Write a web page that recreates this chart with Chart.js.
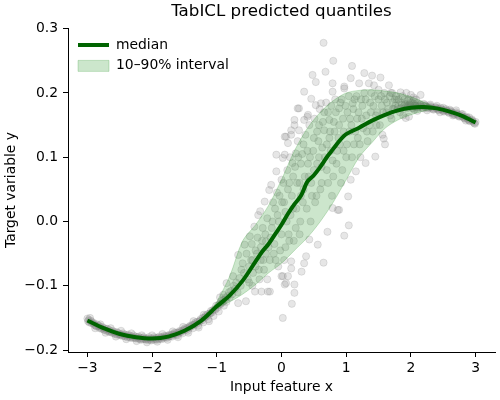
<!DOCTYPE html>
<html>
<head>
<meta charset="utf-8">
<script src="https://cdn.jsdelivr.net/npm/chart.js@4/dist/chart.umd.min.js"></script>
<style>
  html, body { margin: 0; padding: 0; background: #fff; }
  canvas { display: block; }
</style>
</head>
<body>
<canvas id="quantChart" width="500" height="400"></canvas>
<script>
// tick positions + labels
const xTicks = [-3, -2, -1, 0, 1, 2, 3];
const xTickLabels = ['\u22123', '\u22122', '\u22121', '0', '1', '2', '3'];
const yTicks = [-0.2, -0.1, 0.0, 0.1, 0.2, 0.3];
const yTickLabels = ['\u22120.2', '\u22120.1', '0.0', '0.1', '0.2', '0.3'];

// median prediction
const medianX = [-3, -2.75, -2.5, -2.25, -2, -1.75, -1.5, -1.25, -1, -0.8, -0.6, -0.4, -0.3, -0.2, -0.1, 0, 0.1, 0.2, 0.3, 0.4, 0.5, 0.6, 0.7, 0.8, 0.9, 1.0, 1.2, 1.4, 1.6, 1.8, 2.0, 2.2, 2.4, 2.6, 2.8, 3.0];
const medianY = [-0.154, -0.166, -0.175, -0.180, -0.182, -0.179, -0.170, -0.155, -0.132, -0.115, -0.092, -0.062, -0.047, -0.035, -0.020, -0.005, 0.012, 0.027, 0.040, 0.062, 0.072, 0.085, 0.100, 0.113, 0.126, 0.136, 0.146, 0.157, 0.166, 0.173, 0.177, 0.178, 0.176, 0.171, 0.164, 0.154];

// 10-90% interval
const bandX = [-1.1, -1.0, -0.8, -0.6, -0.4, -0.2, 0.0, 0.2, 0.4, 0.6, 0.8, 1.0, 1.2, 1.4, 1.6, 1.8, 2.0, 2.2, 2.4];
const bandHigh = [-0.143, -0.125, -0.085, -0.030, -0.005, 0.025, 0.065, 0.110, 0.145, 0.170, 0.188, 0.200, 0.204, 0.205, 0.203, 0.200, 0.194, 0.186, 0.176];
const bandLow = [-0.143, -0.135, -0.125, -0.113, -0.098, -0.080, -0.065, -0.045, -0.025, 0.000, 0.030, 0.065, 0.100, 0.123, 0.145, 0.158, 0.166, 0.172, 0.176];

// training samples (x, y) - tight part on the left
const samplesLeft = [
  [-3.00, -0.151], [-2.97, -0.157], [-2.93, -0.156], [-2.89, -0.161], [-2.85, -0.160], [-2.81, -0.166],
  [-2.77, -0.164], [-2.73, -0.169], [-2.69, -0.167], [-2.65, -0.172], [-2.61, -0.170], [-2.57, -0.175],
  [-2.53, -0.173], [-2.49, -0.177], [-2.45, -0.174], [-2.41, -0.179], [-2.37, -0.176], [-2.33, -0.181],
  [-2.29, -0.177], [-2.25, -0.182], [-2.21, -0.179], [-2.17, -0.184], [-2.13, -0.180], [-2.09, -0.184],
  [-2.05, -0.180], [-2.01, -0.185], [-1.97, -0.180], [-1.93, -0.184], [-1.89, -0.179], [-1.85, -0.183],
  [-1.81, -0.178], [-1.77, -0.181], [-1.73, -0.176], [-1.69, -0.179], [-1.65, -0.173], [-1.61, -0.177],
  [-1.57, -0.170], [-1.53, -0.174], [-1.49, -0.166], [-1.45, -0.170], [-1.41, -0.162], [-1.37, -0.166],
  [-1.33, -0.157], [-1.29, -0.162], [-1.25, -0.152], [-1.21, -0.157], [-1.17, -0.146], [-1.13, -0.152],
  [-1.09, -0.139], [-1.05, -0.147], [-1.01, -0.131], [-0.97, -0.140], [-0.93, -0.124], [-0.89, -0.131],
  [-2.99, -0.155], [-2.95, -0.154], [-2.91, -0.159], [-2.87, -0.162], [-2.83, -0.163], [-2.79, -0.165],
  [-2.75, -0.168], [-2.71, -0.167], [-2.67, -0.171], [-2.63, -0.171], [-2.59, -0.174], [-2.55, -0.172],
  [-2.51, -0.176], [-2.47, -0.176], [-2.43, -0.178], [-2.39, -0.177], [-2.35, -0.180], [-2.31, -0.179],
  [-2.27, -0.181], [-2.23, -0.180], [-2.19, -0.183], [-2.15, -0.181], [-2.11, -0.183], [-2.07, -0.182],
  [-2.03, -0.184], [-1.99, -0.182], [-1.95, -0.183], [-1.91, -0.181], [-1.87, -0.182], [-1.83, -0.180],
  [-1.79, -0.180], [-1.75, -0.178], [-1.71, -0.178], [-1.67, -0.175], [-1.63, -0.176], [-1.59, -0.172],
  [-1.55, -0.172], [-1.51, -0.168], [-1.47, -0.168], [-1.43, -0.164], [-1.39, -0.163], [-1.35, -0.160],
  [-1.31, -0.159], [-1.27, -0.155], [-1.23, -0.154], [-1.19, -0.149], [-1.15, -0.147], [-1.11, -0.143],
  [-1.07, -0.141], [-1.03, -0.136], [-0.99, -0.134], [-0.95, -0.129], [-0.91, -0.126], [-0.87, -0.121],
  [-0.85, -0.125], [-0.83, -0.116], [-0.81, -0.110], [-0.78, -0.108], [-0.76, -0.113], [-0.74, -0.100],
  [-0.70, -0.095], [-0.68, -0.110], [-0.65, -0.088], [-0.63, -0.100],
  [-2.98, -0.153], [-2.94, -0.158], [-2.90, -0.158], [-2.86, -0.163], [-2.82, -0.162], [-2.78, -0.167],
  [-2.74, -0.166], [-2.70, -0.170], [-2.66, -0.169], [-2.62, -0.173], [-2.58, -0.172], [-2.54, -0.176],
  [-2.50, -0.175], [-2.46, -0.178], [-2.42, -0.176], [-2.38, -0.180], [-2.34, -0.178], [-2.30, -0.181],
  [-2.26, -0.179], [-2.22, -0.182], [-2.18, -0.181], [-2.14, -0.183], [-2.10, -0.182], [-2.06, -0.184],
  [-2.02, -0.182], [-1.98, -0.184], [-1.94, -0.181], [-1.90, -0.183], [-1.86, -0.180], [-1.82, -0.181],
  [-1.78, -0.178], [-1.74, -0.179], [-1.70, -0.176], [-1.66, -0.176], [-1.62, -0.173], [-1.58, -0.173],
  [-1.54, -0.170], [-1.50, -0.169], [-1.46, -0.166], [-1.42, -0.165], [-1.38, -0.161], [-1.34, -0.160],
  [-1.30, -0.156], [-1.26, -0.155], [-1.22, -0.150], [-1.18, -0.149], [-1.14, -0.144], [-1.10, -0.143],
  [-1.06, -0.138], [-1.02, -0.137], [-0.98, -0.130], [-0.94, -0.128], [-0.90, -0.122], [-0.86, -0.118],
  [-2.96, -0.150], [-2.88, -0.166], [-2.80, -0.160], [-2.72, -0.173], [-2.64, -0.166], [-2.56, -0.179],
  [-2.48, -0.170], [-2.40, -0.183], [-2.32, -0.174], [-2.24, -0.186], [-2.16, -0.177], [-2.08, -0.188],
  [-2.00, -0.177], [-1.92, -0.187], [-1.84, -0.175], [-1.76, -0.184], [-1.68, -0.171], [-1.60, -0.180],
  [-1.52, -0.164], [-1.44, -0.173], [-1.36, -0.155], [-1.28, -0.165], [-1.20, -0.145], [-1.12, -0.155]
];
// spread part in the middle
const samplesMid = [
  [-0.95, -0.118], [-0.90, -0.114], [-0.85, -0.096], [-0.80, -0.118], [-0.75, -0.085], [-0.72, -0.105],
  [-0.67, -0.127], [-0.67, -0.052], [-0.62, -0.075], [-0.60, -0.065], [-0.57, -0.036], [-0.55, -0.124],
  [-0.52, -0.090], [-0.49, -0.023], [-0.47, -0.060], [-0.45, -0.100], [-0.42, -0.008], [-0.41, -0.109],
  [-0.40, -0.045], [-0.36, 0.010], [-0.35, -0.075], [-0.33, 0.016], [-0.31, -0.109], [-0.30, -0.030],
  [-0.28, -0.060], [-0.26, 0.031], [-0.24, -0.031], [-0.22, -0.090], [-0.21, -0.109], [-0.19, 0.049],
  [-0.18, -0.109], [-0.16, 0.057], [-0.15, -0.010], [-0.12, -0.050], [-0.10, 0.020], [-0.08, 0.078],
  [-0.08, 0.104], [-0.05, -0.070], [-0.03, 0.040], [0.00, 0.065], [0.00, -0.085], [0.02, -0.150],
  [0.02, 0.099], [0.02, -0.085], [0.05, 0.132], [0.05, 0.104], [0.05, -0.098], [0.07, -0.096],
  [0.07, 0.132], [0.08, 0.000], [0.10, 0.122], [0.10, -0.085], [0.10, 0.050], [0.12, -0.030],
  [0.15, 0.135], [0.15, 0.142], [0.15, -0.062], [0.15, -0.073], [0.16, -0.128], [0.17, 0.091],
  [0.18, 0.020], [0.20, 0.150], [0.20, 0.158], [0.20, -0.098], [0.20, -0.111], [0.22, 0.106],
  [0.24, 0.060], [0.25, 0.176], [0.27, 0.142], [0.27, 0.176], [0.28, -0.020], [0.30, 0.090],
  [0.31, -0.078], [0.33, 0.030], [0.35, 0.202], [0.35, 0.158], [0.35, -0.065], [0.38, -0.054],
  [0.40, 0.163], [0.40, 0.110], [0.41, 0.166], [0.42, 0.070], [0.43, -0.028], [0.45, 0.000],
  [0.46, 0.191], [0.48, 0.228], [0.50, 0.130], [0.52, 0.030], [0.53, 0.217], [0.53, 0.181],
  [0.55, 0.090], [0.56, -0.036], [0.58, 0.150], [0.60, 0.050], [0.61, 0.184], [0.63, 0.115],
  [0.65, 0.278], [0.65, -0.064], [0.66, 0.142], [0.68, 0.233], [0.70, 0.080], [0.71, -0.016],
  [0.72, 0.170], [0.74, 0.158], [0.76, 0.110], [0.78, 0.040], [0.79, 0.215], [0.79, 0.202],
  [0.79, 0.021], [0.80, 0.250], [0.82, 0.140], [0.85, 0.090], [0.87, 0.018], [0.89, 0.176],
  [0.89, 0.018], [0.90, 0.120], [0.92, 0.060], [0.95, 0.160], [0.97, 0.207], [0.97, 0.210],
  [0.97, -0.022], [1.00, 0.100], [1.03, 0.039], [1.04, -0.006], [1.05, 0.140], [1.07, 0.223],
  [1.07, 0.065], [1.09, 0.242], [1.10, 0.184], [1.12, 0.120], [1.15, 0.078], [1.17, 0.160],
  [1.20, 0.215], [1.22, 0.100], [1.25, 0.180], [1.28, 0.231], [1.30, 0.091], [1.32, 0.140],
  [1.35, 0.215], [1.38, 0.170], [1.40, 0.227], [1.43, 0.212], [1.45, 0.101], [1.47, 0.150],
  [1.50, 0.190], [1.53, 0.224], [1.56, 0.135], [1.58, 0.129], [1.60, 0.120], [1.62, 0.170],
  [1.66, 0.212], [1.69, 0.200], [1.70, 0.160], [1.75, 0.190], [1.80, 0.175], [1.84, 0.201],
  [1.88, 0.165], [1.92, 0.161], [1.97, 0.163], [2.00, 0.197], [2.05, 0.190], [2.15, 0.197],
  [2.10, 0.172],
  [-0.50, -0.070], [-0.45, -0.060], [-0.38, -0.050], [-0.32, -0.040], [-0.25, -0.020], [-0.20, -0.040],
  [-0.14, 0.000], [-0.06, 0.010], [0.00, -0.020], [0.04, 0.030], [0.06, -0.040], [0.12, 0.060],
  [0.14, 0.010], [0.18, 0.070], [0.22, -0.010], [0.26, 0.100], [0.30, 0.040], [0.34, 0.120],
  [0.36, 0.070], [0.44, 0.100], [0.47, 0.040], [0.50, 0.080], [0.55, 0.140], [0.58, 0.100],
  [0.62, 0.060], [0.66, 0.170], [0.70, 0.120], [0.75, 0.140], [0.80, 0.070], [0.84, 0.170],
  [0.88, 0.130], [0.93, 0.190], [0.96, 0.110], [1.02, 0.170], [1.08, 0.150], [1.13, 0.190],
  [1.18, 0.130], [1.24, 0.160], [1.30, 0.190], [1.36, 0.150], [1.42, 0.180], [1.48, 0.170],
  [1.55, 0.180], [1.60, 0.190], [1.65, 0.175], [1.72, 0.185], [1.78, 0.190], [1.85, 0.185],
  [1.95, 0.188], [2.02, 0.185],
  [-0.58, -0.080], [-0.54, -0.050], [-0.50, -0.095], [-0.46, -0.035], [-0.44, -0.080], [-0.40, -0.070],
  [-0.37, -0.025], [-0.34, -0.090], [-0.32, -0.060], [-0.29, -0.010], [-0.27, -0.075], [-0.24, -0.050],
  [-0.22, 0.005], [-0.18, -0.060], [-0.17, -0.025], [-0.13, 0.030], [-0.11, -0.035], [-0.09, -0.060],
  [-0.07, 0.045], [-0.04, 0.000], [-0.02, -0.045], [0.01, 0.030], [0.03, 0.060], [0.04, -0.060],
  [0.06, 0.015], [0.09, 0.080], [0.11, -0.020], [0.13, 0.100], [0.16, 0.040], [0.19, -0.030],
  [0.21, 0.085], [0.23, 0.020], [0.25, 0.125], [0.28, 0.060], [0.29, 0.000], [0.32, 0.105],
  [0.34, 0.050], [0.37, 0.135], [0.39, 0.020], [0.41, 0.090], [0.43, 0.150], [0.46, 0.060],
  [0.49, 0.110], [0.51, 0.160], [0.54, 0.040], [0.57, 0.125], [0.59, 0.175], [0.62, 0.085],
  [0.64, 0.155], [0.67, 0.100], [0.69, 0.185], [0.72, 0.060], [0.74, 0.130], [0.77, 0.180],
  [0.79, 0.095], [0.81, 0.155], [0.83, 0.190], [0.86, 0.110], [0.89, 0.150], [0.91, 0.185],
  [0.94, 0.080], [0.96, 0.140], [0.99, 0.180], [1.01, 0.120], [1.04, 0.195], [1.06, 0.160],
  [1.09, 0.100], [1.11, 0.175], [1.14, 0.140], [1.16, 0.195], [1.19, 0.170], [1.21, 0.120],
  [1.23, 0.190], [1.26, 0.145], [1.28, 0.200], [1.31, 0.165], [1.33, 0.125], [1.37, 0.185],
  [1.39, 0.200], [1.41, 0.140], [1.44, 0.195], [1.46, 0.165], [1.50, 0.205], [1.52, 0.150],
  [1.54, 0.195], [1.57, 0.170], [1.59, 0.200], [1.63, 0.185], [1.67, 0.195], [1.68, 0.165],
  [1.71, 0.200], [1.74, 0.175], [1.77, 0.195], [1.81, 0.190], [1.83, 0.170], [1.87, 0.195],
  [1.90, 0.190], [1.93, 0.200], [1.97, 0.190], [2.04, 0.193], [2.08, 0.190]
];
// tight part on the right
const samplesRight = [
  [1.90, 0.181], [1.94, 0.176], [1.98, 0.182], [2.02, 0.177], [2.06, 0.182], [2.10, 0.177],
  [2.14, 0.182], [2.18, 0.177], [2.22, 0.181], [2.26, 0.176], [2.30, 0.180], [2.34, 0.175],
  [2.38, 0.178], [2.42, 0.174], [2.46, 0.177], [2.50, 0.172], [2.54, 0.175], [2.58, 0.170],
  [2.62, 0.172], [2.66, 0.167], [2.70, 0.170], [2.74, 0.164], [2.78, 0.167], [2.82, 0.161],
  [2.86, 0.163], [2.90, 0.157], [2.94, 0.159], [2.98, 0.153], [3.00, 0.155],
  [1.92, 0.178], [1.96, 0.180], [2.00, 0.179], [2.04, 0.180], [2.08, 0.179], [2.12, 0.180],
  [2.16, 0.179], [2.20, 0.179], [2.24, 0.178], [2.28, 0.178], [2.32, 0.177], [2.36, 0.176],
  [2.40, 0.176], [2.44, 0.175], [2.48, 0.174], [2.52, 0.173], [2.56, 0.172], [2.60, 0.171],
  [2.64, 0.169], [2.68, 0.168], [2.72, 0.166], [2.76, 0.165], [2.80, 0.163], [2.84, 0.162],
  [2.88, 0.159], [2.92, 0.158], [2.96, 0.155], [1.80, 0.178], [1.84, 0.176], [1.86, 0.182],
  [1.76, 0.180], [1.72, 0.175],
  [1.91, 0.183], [1.95, 0.178], [1.99, 0.181], [2.03, 0.176], [2.07, 0.180], [2.11, 0.178],
  [2.15, 0.181], [2.19, 0.176], [2.23, 0.180], [2.27, 0.177], [2.31, 0.178], [2.35, 0.174],
  [2.39, 0.177], [2.43, 0.173], [2.47, 0.175], [2.51, 0.171], [2.55, 0.173], [2.59, 0.169],
  [2.63, 0.170], [2.67, 0.166], [2.71, 0.168], [2.75, 0.163], [2.79, 0.164], [2.83, 0.160],
  [2.87, 0.161], [2.91, 0.156], [2.95, 0.157], [2.99, 0.152],
  [2.00, 0.185], [2.10, 0.184], [2.20, 0.183], [2.30, 0.182], [2.40, 0.180], [2.50, 0.177],
  [2.60, 0.174], [2.70, 0.173], [2.80, 0.167], [2.90, 0.162], [2.05, 0.174], [2.25, 0.173],
  [2.45, 0.170], [2.65, 0.165], [2.85, 0.157]
];

const FONT = "'DejaVu Sans', sans-serif";
const toPoints = (xs, ys) => xs.map((x, i) => ({ x: x, y: ys[i] }));
const samples = samplesLeft.concat(samplesMid, samplesRight).map(p => ({ x: p[0], y: p[1] }));

// legend in chartArea mode gets top reset to 0, put it back inside the axes
const legendNudge = {
  id: 'legendNudge',
  afterLayout(chart) {
    const lg = chart.legend;
    if (!lg) return;
    const h = lg.height;
    lg.left = chart.chartArea.left + 3;
    lg.top = chart.chartArea.top + 3;
    lg.bottom = lg.top + h;
  }
};

const ctx = document.getElementById('quantChart').getContext('2d');
const chart = new Chart(ctx, {
  type: 'scatter',
  data: {
    datasets: [
      {
        label: 'median',
        type: 'line',
        data: toPoints(medianX, medianY),
        borderColor: '#006400',
        borderWidth: 4,
        pointRadius: 0,
        tension: 0.3,
        fill: false
      },
      {
        label: '10\u201390% interval',
        type: 'line',
        data: toPoints(bandX, bandHigh),
        borderColor: 'rgba(0,128,0,0.2)',
        backgroundColor: 'rgba(0,128,0,0.2)',
        borderWidth: 1,
        pointRadius: 0,
        tension: 0.3,
        fill: '+1'
      },
      {
        label: 'q10',
        type: 'line',
        data: toPoints(bandX, bandLow),
        borderColor: 'rgba(0,128,0,0.2)',
        borderWidth: 1,
        pointRadius: 0,
        tension: 0.3,
        fill: false
      },
      {
        label: 'samples',
        data: samples,
        backgroundColor: 'rgba(128,128,128,0.2)',
        borderColor: 'rgba(128,128,128,0.2)',
        borderWidth: 1,
        pointRadius: 3.6
      }
    ]
  },
  options: {
    responsive: false,
    animation: false,
    devicePixelRatio: 1,
    layout: { padding: { top: 0, right: 3, bottom: 0, left: 0 } },
    plugins: {
      tooltip: { enabled: false },
      title: {
        display: true,
        fullSize: false,
        text: 'TabICL predicted quantiles',
        color: '#000',
        font: { family: FONT, size: 16.7, weight: 'normal' },
        padding: { top: 2, bottom: 6 }
      },
      legend: {
        position: 'chartArea',
        align: 'start',
        labels: {
          usePointStyle: true,
          pointStyleWidth: 31,
          boxHeight: 11,
          padding: 7,
          color: '#000',
          font: { family: FONT, size: 13.9 },
          generateLabels: () => [
            { text: 'median', pointStyle: 'line', strokeStyle: '#006400', fillStyle: '#006400', lineWidth: 4, datasetIndex: 0 },
            { text: '10\u201390% interval', pointStyle: 'rect', strokeStyle: 'rgba(0,128,0,0.2)', fillStyle: 'rgba(0,128,0,0.2)', lineWidth: 1, datasetIndex: 1 }
          ]
        }
      }
    },
    scales: {
      x: {
        type: 'linear',
        min: -3.3,
        max: 3.3,
        afterBuildTicks: axis => { axis.ticks = xTicks.map(v => ({ value: v })); },
        afterFit: axis => { axis.height = 48; },
        ticks: {
          color: '#000',
          padding: 3,
          font: { family: FONT, size: 13.9 },
          callback: v => xTickLabels[xTicks.indexOf(v)]
        },
        grid: { drawOnChartArea: false, drawTicks: true, tickLength: 5, color: '#000' },
        border: { display: true, color: '#000', width: 1 },
        title: {
          display: true,
          text: 'Input feature x',
          color: '#000',
          font: { family: FONT, size: 13.9 },
          padding: { top: 0, bottom: 4 }
        }
      },
      y: {
        type: 'linear',
        min: -0.203,
        max: 0.301,
        afterBuildTicks: axis => { axis.ticks = yTicks.map(v => ({ value: v })); },
        afterFit: axis => { axis.width = 68; },
        ticks: {
          color: '#000',
          padding: 5,
          font: { family: FONT, size: 13.9 },
          callback: v => yTickLabels[yTicks.indexOf(v)]
        },
        grid: { drawOnChartArea: false, drawTicks: true, tickLength: 5, color: '#000' },
        border: { display: true, color: '#000', width: 1 },
        title: {
          display: true,
          text: 'Target variable y',
          color: '#000',
          font: { family: FONT, size: 13.9 },
          padding: { top: 3, bottom: 0 }
        }
      }
    }
  },
  plugins: [legendNudge]
});
</script>
</body>
</html>
